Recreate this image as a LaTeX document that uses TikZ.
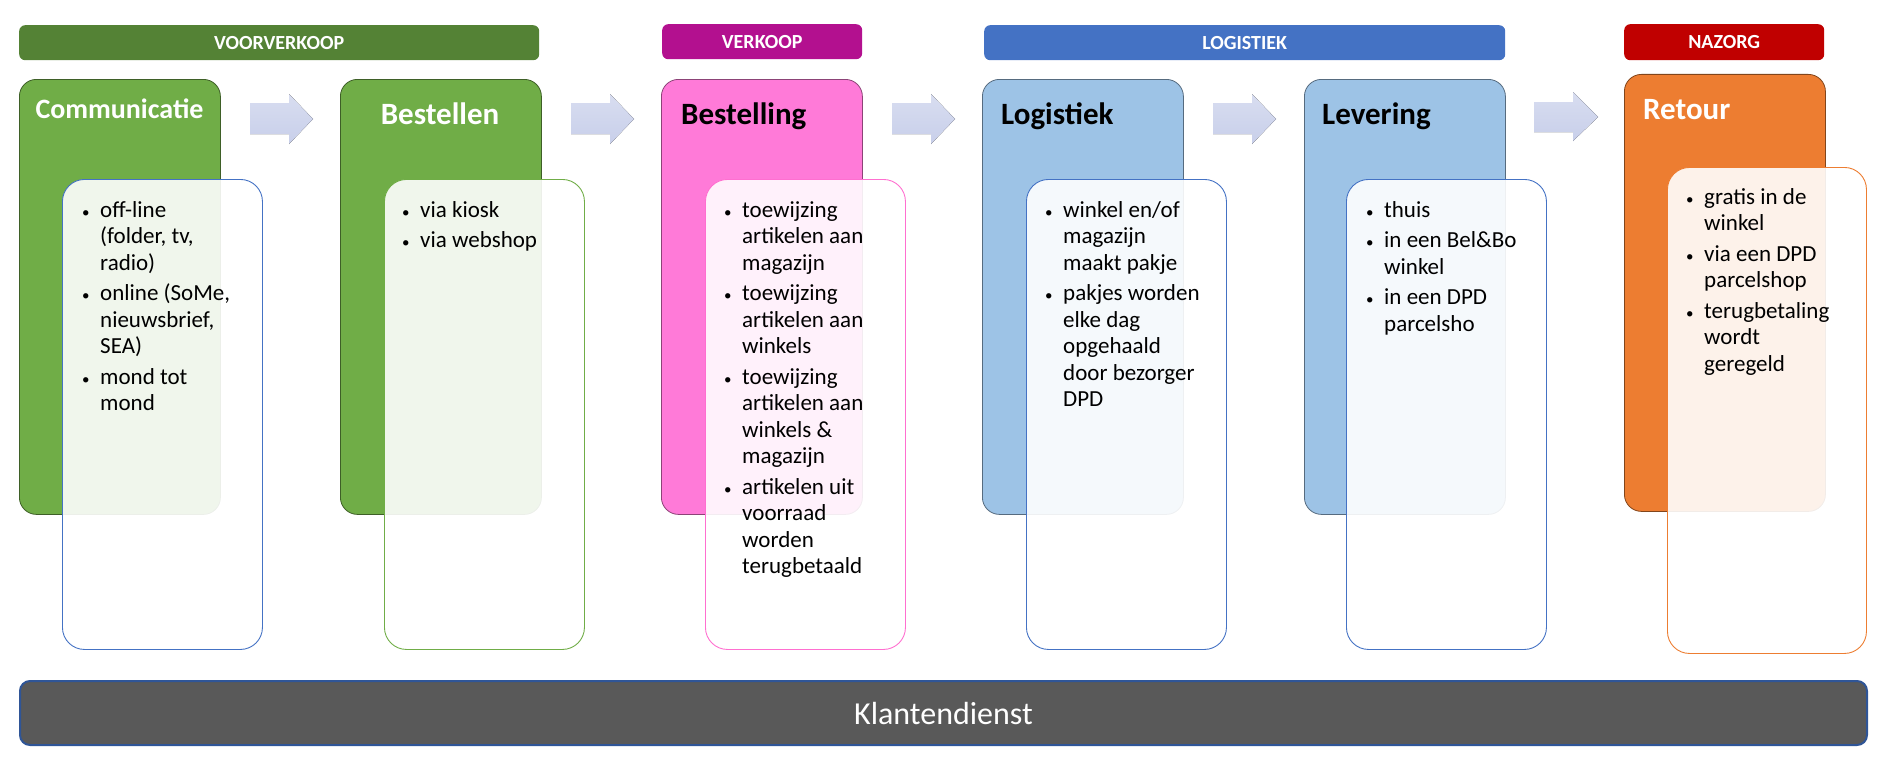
\documentclass[tikz,border=0pt]{standalone}
\usepackage{fontspec}
\setmainfont{Carlito}
\definecolor{cgreen}{HTML}{70AD47}
\definecolor{cdgreen}{HTML}{548235}
\definecolor{cpink}{HTML}{FF7AD8}
\definecolor{cpurple}{HTML}{B3108F}
\definecolor{cpinkline}{HTML}{FF6FD0}
\definecolor{clblue}{HTML}{9DC3E6}
\definecolor{cblue}{HTML}{4472C4}
\definecolor{corange}{HTML}{ED7D31}
\definecolor{cred}{HTML}{C00000}
\definecolor{cgray}{HTML}{595959}
\definecolor{cnavy}{HTML}{2F5597}
\definecolor{carrowtop}{HTML}{D8DDF0}
\definecolor{carrowbot}{HTML}{C8CFEA}
\tikzset{
 phasebar/.style={fill=#1, rounded corners=6pt, minimum height=35pt, inner sep=0pt, anchor=north west, text=white, font=\fontsize{20}{24}\selectfont\bfseries},
 mainbox/.style={fill=#1, draw=#1!55!black, line width=0.8pt, rounded corners=17pt, minimum width=201pt, minimum height=435pt, inner sep=0pt, anchor=north west},
 innerbox/.style={draw=#1, line width=0.9pt, fill=white, fill opacity=0.9, rounded corners=22pt, minimum width=200pt, minimum height=470pt, inner sep=0pt, anchor=north west},
 titletext/.style={font=\fontsize{31}{36}\selectfont\bfseries, inner sep=0pt, text=#1},
 listtext/.style={font=\fontsize{23}{26.5}\selectfont, inner sep=0pt, anchor=base west, text=black},
 blockarrow/.style={top color=carrowtop, bottom color=carrowbot, draw=none},
}
\newcommand{\bul}{\makebox[15pt][l]{\hspace{-3pt}{\fontsize{15}{15}\selectfont\textbullet}}}
\begin{document}
\begin{tikzpicture}[x=1pt,y=-1pt]
\useasboundingbox (0,0) rectangle (1895,768);
% phase bars
\node[phasebar=cdgreen, minimum width=520pt] (pv) at (19,25) {VOORVERKOOP};
\node[phasebar=cpurple, minimum width=200pt] (pk) at (662,24) {VERKOOP};
\node[phasebar=cblue, minimum width=521pt] (pl) at (984,25) {LOGISTIEK};
\node[phasebar=cred, minimum width=200pt, minimum height=36pt] (pn) at (1624,24) {NAZORG};
% main boxes
\node[mainbox=cgreen] (mc) at (19,79) {};
\node[mainbox=cgreen] (mb) at (340,79) {};
\node[mainbox=cpink] (mbg) at (661,79) {};
\node[mainbox=clblue] (ml) at (982,79) {};
\node[mainbox=clblue] (mlv) at (1304,79) {};
\node[mainbox=corange, minimum height=437pt] (mr) at (1624,74) {};
% inner boxes
\node[innerbox=cblue] (ic) at (62,179) {};
\node[innerbox=cgreen] (ib) at (384,179) {};
\node[innerbox=cpinkline] (ibg) at (705,179) {};
\node[innerbox=cblue] (il) at (1026,179) {};
\node[innerbox=cblue] (ilv) at (1346,179) {};
\node[innerbox=corange, minimum width=199pt, minimum height=486pt] (ir) at (1667,167) {};
% block arrows
\foreach \x in {250,571,892,1213}{
 \fill[blockarrow] (\x,103) -- (\x+39,103) -- (\x+39,94) -- (\x+63,119) -- (\x+39,144) -- (\x+39,134) -- (\x,134) -- cycle;
}
\fill[blockarrow] (1534,102) -- (1573,102) -- (1573,92) -- (1598,117) -- (1573,141) -- (1573,132) -- (1534,132) -- cycle;
% titles
\node[titletext=white, font=\fontsize{28}{32}\selectfont\bfseries, anchor=base] (tc) at (119.5,118) {Communicatie};
\node[titletext=white, anchor=base] (tb) at (440,124) {Bestellen};
\node[titletext=black, anchor=base west] (tbg) at (681,124) {Bestelling};
\node[titletext=black, anchor=base west] (tl) at (1001,124) {Logistiek};
\node[titletext=black, anchor=base west] (tlv) at (1322,124) {Levering};
\node[titletext=white, anchor=base west] (tr) at (1643,119) {Retour};
% lists
\node[listtext] (lc) at (85,217) {\begin{tabular}[t]{@{}l@{}l@{}}\bul & off-line\\ & (folder, tv,\\ & radio)\\[4pt] \bul & online (SoMe,\\ & nieuwsbrief,\\ & SEA)\\[4pt] \bul & mond tot\\ & mond\end{tabular}};
\node[listtext] (lb) at (405,217) {\begin{tabular}[t]{@{}l@{}l@{}}\bul & via kiosk\\[4pt] \bul & via webshop\end{tabular}};
\node[listtext] (lbg) at (727,217) {\begin{tabular}[t]{@{}l@{}l@{}}\bul & toewijzing\\ & artikelen aan\\ & magazijn\\[4pt] \bul & toewijzing\\ & artikelen aan\\ & winkels\\[4pt] \bul & toewijzing\\ & artikelen aan\\ & winkels \&\\ & magazijn\\[4pt] \bul & artikelen uit\\ & voorraad\\ & worden\\ & terugbetaald\end{tabular}};
\node[listtext] (ll) at (1048,217) {\begin{tabular}[t]{@{}l@{}l@{}}\bul & winkel en/of\\ & magazijn\\ & maakt pakje\\[4pt] \bul & pakjes worden\\ & elke dag\\ & opgehaald\\ & door bezorger\\ & DPD\end{tabular}};
\node[listtext] (llv) at (1369,217) {\begin{tabular}[t]{@{}l@{}l@{}}\bul & thuis\\[4pt] \bul & in een Bel\&Bo\\ & winkel\\[4pt] \bul & in een DPD\\ & parcelsho\end{tabular}};
\node[listtext] (lr) at (1689,204) {\begin{tabular}[t]{@{}l@{}l@{}}\bul & gratis in de\\ & winkel\\[4pt] \bul & via een DPD\\ & parcelshop\\[4pt] \bul & terugbetaling\\ & wordt\\ & geregeld\end{tabular}};
% customer service bar
\node[fill=cgray, draw=cnavy, line width=2pt, rounded corners=10pt, minimum width=1847pt, minimum height=64pt, inner sep=0pt, anchor=north west, text=white, font=\fontsize{32}{38}\selectfont] (kd) at (19,680) {Klantendienst};
\end{tikzpicture}
\end{document}
